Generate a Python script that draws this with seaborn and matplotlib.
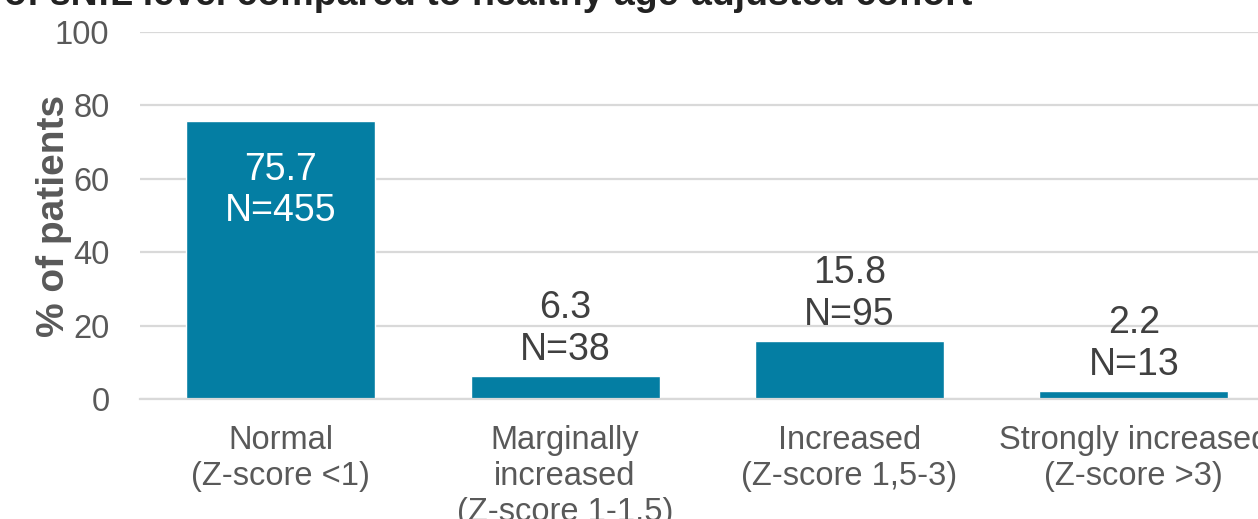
import matplotlib
matplotlib.use("Agg")
import matplotlib.pyplot as plt
import seaborn as sns
import pandas as pd

categories = [
    "Normal\n(Z-score <1)",
    "Marginally\nincreased\n(Z-score 1-1.5)",
    "Increased\n(Z-score 1,5-3)",
    "Strongly increased\n(Z-score >3)",
]
percent = [75.7, 6.3, 15.8, 2.2]
counts = [455, 38, 95, 13]
yticks = [0, 20, 40, 60, 80, 100]
title = "Distribution of sNfL level compared to healthy age-adjusted cohort"

sns.set_theme(style="white")
plt.rcParams["font.family"] = ["Liberation Sans", "DejaVu Sans"]

BAR = "#047EA3"
GRID = "#D9D9D9"
TICK = "#595959"
LABEL = "#404040"

W, H = 1258, 519
fig = plt.figure(figsize=(W / 100, H / 100), dpi=100)
# axes run past the right edge of the canvas
left_px, right_px, top_px, bottom_px = 140, 1276, 32, 399
ax = fig.add_axes([left_px / W, 1 - bottom_px / H,
                   (right_px - left_px) / W, (bottom_px - top_px) / H])

df = pd.DataFrame({"category": categories, "percent": percent, "n": counts})
sns.barplot(data=df, x="category", y="percent", color=BAR, saturation=1,
            width=0.665, ax=ax)

ax.set_xlim(-0.495, 3.5)
ax.set_ylim(0, 100)
ax.set_yticks(yticks)
ax.yaxis.grid(True, color=GRID, linewidth=1.6)
ax.set_axisbelow(True)
for s in ["left", "right", "top"]:
    ax.spines[s].set_visible(False)
ax.spines["bottom"].set_color(GRID)
ax.spines["bottom"].set_linewidth(1.6)
ax.tick_params(axis="y", length=0, pad=22, labelsize=23.5, labelcolor=TICK)
ax.tick_params(axis="x", length=0, pad=19, labelsize=23.5, labelcolor=TICK)
for t in ax.get_xticklabels():
    t.set_linespacing(1.19)
ax.set_xlabel("")
ax.set_ylabel("% of patients", fontsize=28, fontweight="bold", color=TICK,
              labelpad=-12)

for i, (p, n) in enumerate(zip(percent, counts)):
    txt = f"{p}\nN={n}"
    if p > 50:
        ax.annotate(txt, (i, p), xytext=(0, -22), textcoords="offset points",
                    ha="center", va="top", fontsize=27, color="white",
                    linespacing=1.2)
    else:
        ax.annotate(txt, (i, p), xytext=(0, 6), textcoords="offset points",
                    ha="center", va="bottom", fontsize=27, color=LABEL,
                    linespacing=1.2)

fig.text(972 / W, 1 - 5 / H, title, ha="right", va="baseline",
         fontsize=27, fontweight="bold", color="#222222")

fig.savefig("out.png", dpi=100)
